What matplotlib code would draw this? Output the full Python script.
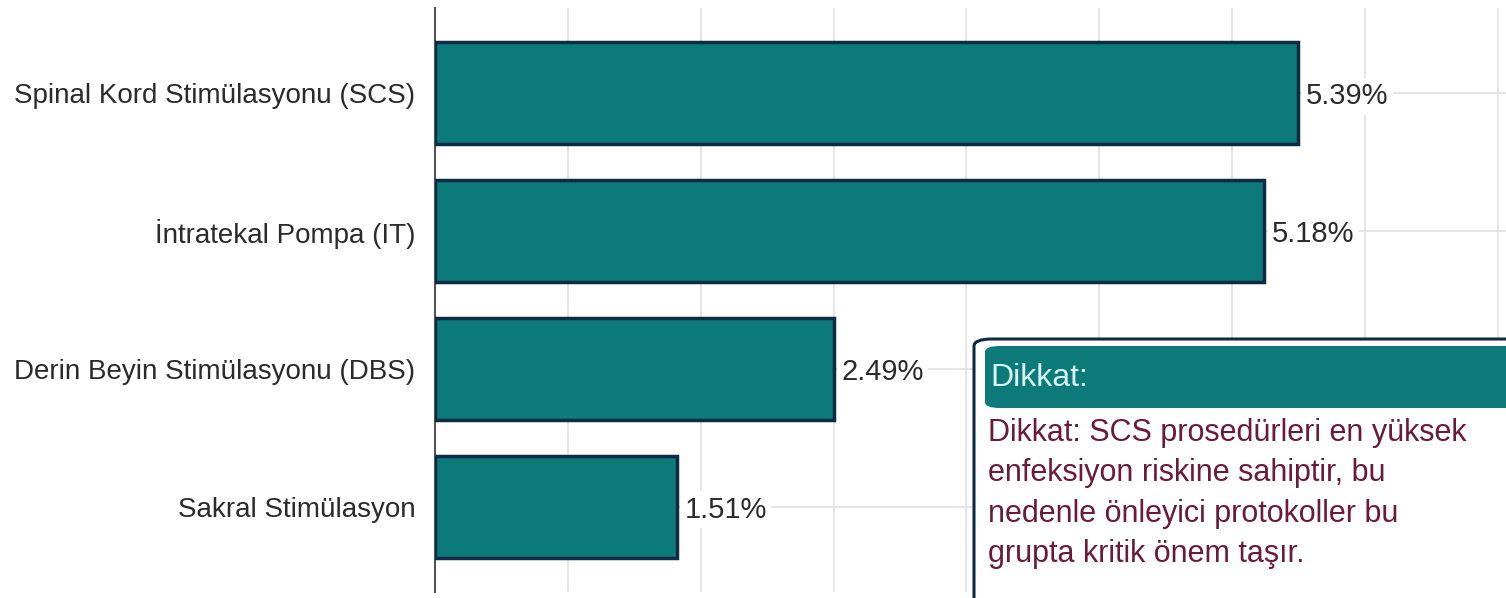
import matplotlib
matplotlib.use("Agg")
import matplotlib.pyplot as plt
from matplotlib.patches import FancyBboxPatch
import numpy as np

# data
categories = ["Spinal Kord Stimülasyonu (SCS)", "İntratekal Pompa (IT)",
              "Derin Beyin Stimülasyonu (DBS)", "Sakral Stimülasyon"]
rates = [5.39, 5.18, 2.49, 1.51]
value_labels = ["5.39%", "5.18%", "2.49%", "1.51%"]
note_title = "Dikkat:"
note_text = ("Dikkat: SCS prosedürleri en yüksek\n"
             "enfeksiyon riskine sahiptir, bu\n"
             "nedenle önleyici protokoller bu\n"
             "grupta kritik önem taşır.")

plt.rcParams['font.family'] = ['Liberation Sans', 'DejaVu Sans']

teal = "#0b7a78"
navy = "#0d2b45"
txt = "#2b2b2b"

fig = plt.figure(figsize=(15.06, 5.98), dpi=100)
ax = fig.add_axes([435 / 1506, 6 / 598, 1 - 435 / 1506, 1 - 14 / 598])

y = np.arange(len(categories))
ax.barh(y, rates, height=0.74, color=teal, edgecolor=navy, linewidth=2.5, zorder=3)

ax.set_ylim(3.62, -0.62)
ax.set_xlim(0, 6.69)
ax.set_yticks(y)
ax.set_yticklabels(categories, fontsize=20, color=txt)
ax.tick_params(axis='y', length=0, pad=14)
ax.set_xticks(np.arange(0, 6.69, 0.83))
ax.tick_params(axis='x', length=0, labelbottom=False)
ax.grid(True, color="#e2e2e2", linewidth=1.2, zorder=0)

for s in ['top', 'right', 'bottom']:
    ax.spines[s].set_visible(False)
ax.spines['left'].set_color("#555555")
ax.spines['left'].set_linewidth(1.5)

for yi, v, lab in zip(y, rates, value_labels):
    ax.text(v + 0.05, yi, lab, va='center_baseline', ha='left', fontsize=21, color=txt,
            bbox=dict(boxstyle='square,pad=0.15', fc='white', ec='none'), zorder=4)

# note box in figure pixels
W, H = 1506, 598
box = FancyBboxPatch((974 / W, -20 / H), 560 / W, (598 - 339 + 20) / H,
                     boxstyle="round,pad=0,rounding_size=0.012",
                     transform=fig.transFigure, fc="white", ec=navy, lw=2.2, zorder=10)
fig.add_artist(box)
head = FancyBboxPatch((985 / W, (598 - 408) / H), 560 / W, 62 / H,
                      boxstyle="round,pad=0,rounding_size=0.01",
                      transform=fig.transFigure, fc=teal, ec="none", zorder=11)
fig.add_artist(head)
fig.text(990 / W, (598 - 378) / H, note_title, fontsize=23, color="#d8f5f5",
         va='center', ha='left', zorder=12)
fig.text(988 / W, (598 - 418) / H, note_text, fontsize=22, color="#6b1a3a",
         va='top', ha='left', linespacing=1.45, zorder=12)

# shrink fonts to fit the widths seen in the reference
fig.canvas.draw()
r = fig.canvas.get_renderer()
lw = max(t.get_window_extent(r).width for t in ax.get_yticklabels())
if lw > 410:
    for t in ax.get_yticklabels():
        t.set_fontsize(20 * 410 / lw)
body = fig.texts[-1]
bw = body.get_window_extent(r).width
if bw > 515:
    body.set_fontsize(22 * 515 / bw)

fig.savefig("out.png", dpi=100)
